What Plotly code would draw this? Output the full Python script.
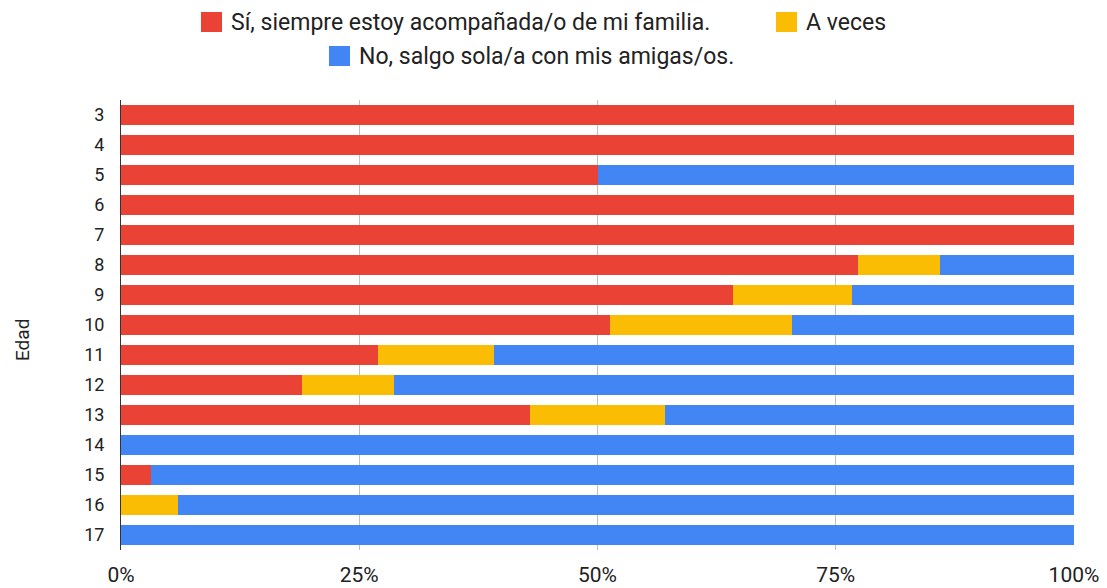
import plotly.graph_objects as go

edades = ["3", "4", "5", "6", "7", "8", "9", "10", "11", "12", "13", "14", "15", "16", "17"]
siempre = [100, 100, 50, 100, 100, 77.3, 64.2, 51.3, 27.0, 19.0, 42.9, 0, 3.1, 0, 0]
a_veces = [0, 0, 0, 0, 0, 8.6, 12.5, 19.1, 12.1, 9.6, 14.2, 0, 0, 5.95, 0]
solo = [0, 0, 50, 0, 0, 14.1, 23.3, 29.6, 60.9, 71.4, 42.9, 100, 96.9, 94.05, 100]

names = ["Sí, siempre estoy acompañada/o de mi familia.", "A veces", "No, salgo sola/a con mis amigas/os."]
colors = ["#EA4335", "#FBBC04", "#4285F4"]
xticks = [0, 25, 50, 75, 100]
xticklabels = ["0%", "25%", "50%", "75%", "100%"]

W, H = 1107, 588
L, R, T, B = 121, 33, 100, 38
PW, PH = W - L - R, H - T - B


def px_x(px):
    return (px - L) / PW


def px_y(py):
    return (H - B - py) / PH


fig = go.Figure()
for vals, name, col in zip([siempre, a_veces, solo], names, colors):
    fig.add_trace(go.Bar(y=edades, x=vals, orientation="h", name=name,
                         marker=dict(color=col, line=dict(width=0)), showlegend=False))

# Manual legend (two rows, like the reference)
legend_items = [
    (names[0], colors[0], 201, 22),
    (names[1], colors[1], 776, 22),
    (names[2], colors[2], 329, 56),
]
shapes = []
annotations = []
for name, col, sx, cy in legend_items:
    shapes.append(dict(type="rect", xref="paper", yref="paper",
                       x0=px_x(sx), x1=px_x(sx + 21), y0=px_y(cy - 10), y1=px_y(cy + 10),
                       fillcolor=col, line=dict(width=0), layer="above"))
    annotations.append(dict(text=name, xref="paper", yref="paper",
                            x=px_x(sx + 28), y=px_y(cy), xanchor="left", yanchor="middle",
                            showarrow=False, font=dict(size=23, color="#222222")))

annotations.append(dict(text="Edad", xref="paper", yref="paper", x=px_x(22), y=px_y(340),
                        xanchor="center", yanchor="middle", textangle=-90, showarrow=False,
                        font=dict(size=19, color="#222222")))

fig.update_layout(
    width=W, height=H,
    barmode="stack", bargap=0.35,
    paper_bgcolor="white", plot_bgcolor="white",
    font=dict(family="Roboto, Arial, sans-serif", size=16, color="#222222"),
    margin=dict(l=L, r=R, t=T, b=B, autoexpand=False),
    showlegend=False,
    shapes=shapes,
    annotations=annotations,
    xaxis=dict(range=[0, 100], tickmode="array", tickvals=xticks, ticktext=xticklabels,
               showgrid=True, gridcolor="#c0c0c0", gridwidth=1, zeroline=False,
               showline=False, ticks="", ticklabelstandoff=10, automargin=False,
               tickfont=dict(size=21, color="#222222"), fixedrange=True),
    yaxis=dict(autorange="reversed", showline=True, linecolor="#333333", linewidth=1,
               showgrid=False, ticks="", ticklabelstandoff=12, automargin=False,
               tickfont=dict(size=18, color="#222222")),
)

fig.write_html("out.html", config={"displayModeBar": False},
               post_script="document.body.style.margin='0';document.body.style.overflow='hidden';")
